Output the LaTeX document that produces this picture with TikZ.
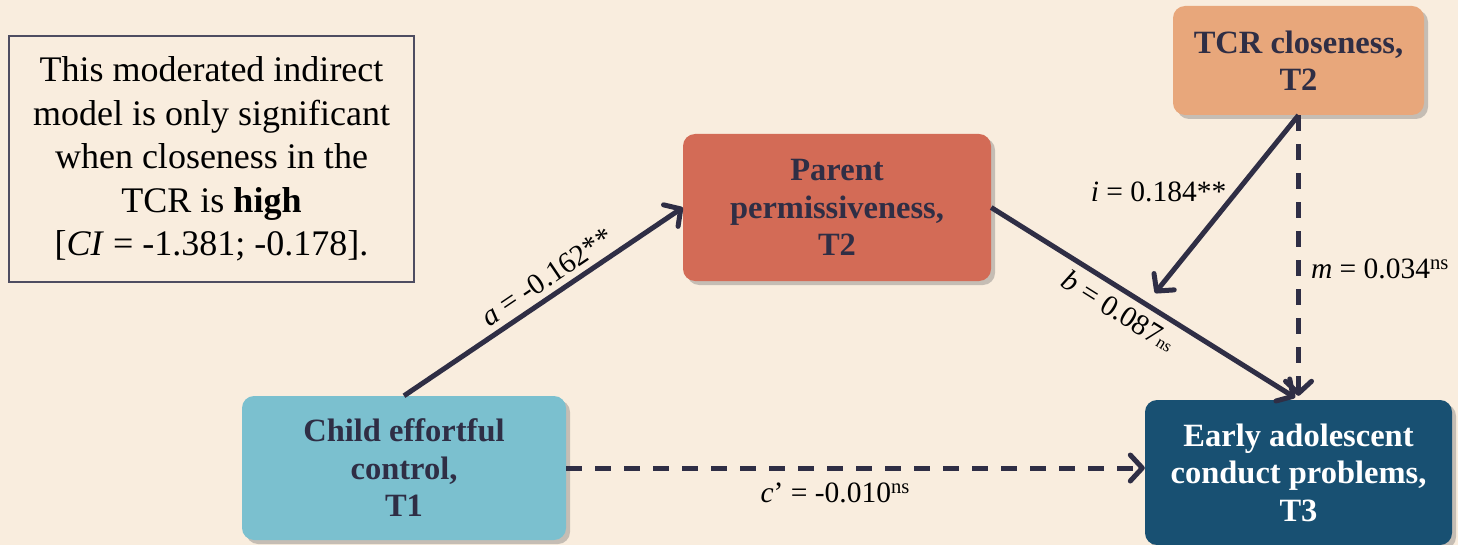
\documentclass[tikz,border=0pt]{standalone}
\usepackage{fontspec}
\setmainfont{Liberation Serif}
\usetikzlibrary{arrows.meta,shadows}
\definecolor{bg}{HTML}{F9EDDE}
\definecolor{parentc}{HTML}{D36B56}
\definecolor{tcrc}{HTML}{E8A77B}
\definecolor{childc}{HTML}{7BC0CF}
\definecolor{earlyc}{HTML}{185072}
\definecolor{ink}{HTML}{2F2E45}
\begin{document}
\begin{tikzpicture}[x=1pt,y=-1pt,
  varbox/.style={rectangle, rounded corners=12pt, align=center, inner sep=0pt,
    font=\fontsize{32.5}{37.5}\selectfont\bfseries, text=ink,
    drop shadow={shadow xshift=4pt, shadow yshift=-4pt, opacity=0.35, fill=black!60}},
  notebox/.style={rectangle, draw=ink!85, line width=1.5pt, align=center, inner sep=0pt,
    font=\fontsize{36}{43.5}\selectfont, text=black},
  path/.style={draw=ink, line width=5pt, -{Straight Barb[length=12pt,width=26pt,round]}},
  nspath/.style={path, dash pattern=on 16pt off 13pt},
  lab/.style={font=\fontsize{29.5}{32}\selectfont, text=black, inner sep=2pt}]
\fill[bg] (0,0) rectangle (1458,545);
\useasboundingbox (0,0) rectangle (1458,545);

\node[notebox, minimum width=405pt, minimum height=246pt] (note) at (211.5,159)
  {This moderated indirect\\model is only significant\\when closeness in the\\TCR is \textbf{high}\\{}[\textit{CI} = -1.381; -0.178].};

\node[varbox, fill=parentc, minimum width=308pt, minimum height=147pt] (parent) at (837,207.5)
  {Parent\\permissiveness,\\T2};
\node[varbox, fill=tcrc, minimum width=251pt, minimum height=109pt] (tcr) at (1298.5,60.5)
  {TCR closeness,\\T2};
\node[varbox, fill=childc, minimum width=324pt, minimum height=144pt] (child) at (404,468)
  {Child effortful\\control,\\T1};
\node[varbox, fill=earlyc, text=white, minimum width=307pt, minimum height=145pt] (early) at (1298.5,472.5)
  {Early adolescent\\conduct problems,\\T3};

\coordinate (itip) at (1155,293);

\draw[path] (child.north) -- node[lab, pos=0.55, sloped, above=4pt] {\textit{a} = -0.162**} (parent.west);
\draw[path, shorten >=4pt] (parent.east) -- node[lab, pos=0.45, sloped, below=5pt] {\textit{b} = 0.087{\fontsize{17}{17}\selectfont ns}} (early.north);
\draw[path] (tcr.south) -- node[lab, pos=0.43, anchor=east, xshift=-6pt] {\textit{i} = 0.184**} (itip);
\draw[nspath, shorten >=4pt] (tcr.south) -- node[lab, pos=0.54, anchor=west, xshift=8pt] {\textit{m} = 0.034\textsuperscript{ns}} (early.north);
\draw[nspath] (child.east) -- node[lab, pos=0.465, below=10pt] {\textit{c}’ = -0.010\textsuperscript{ns}} (child.east -| early.west);
\end{tikzpicture}
\end{document}
